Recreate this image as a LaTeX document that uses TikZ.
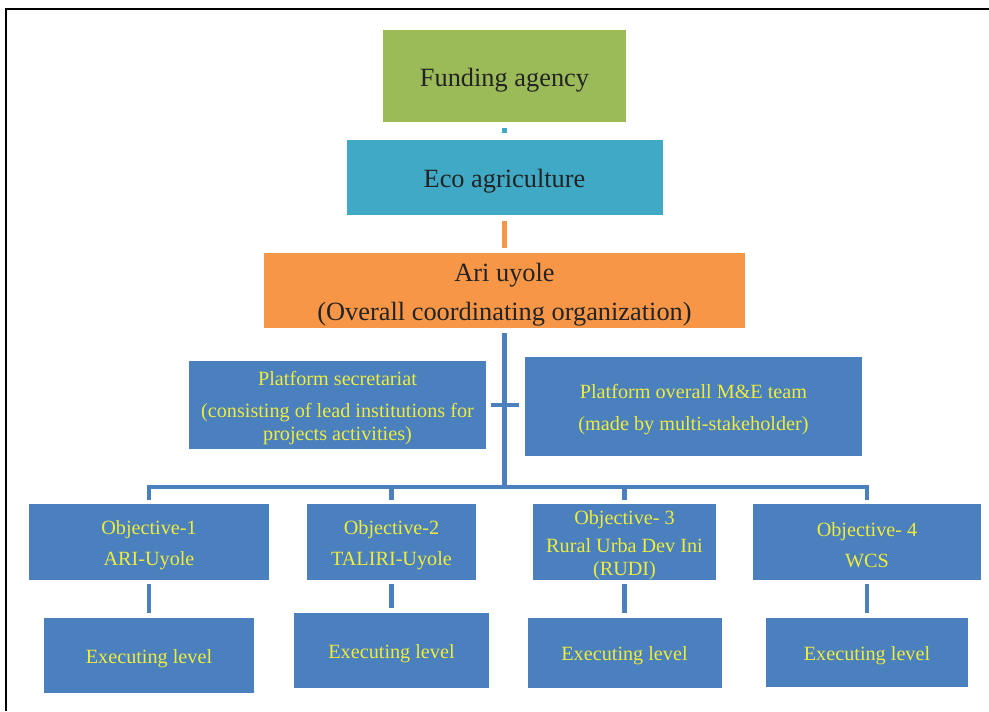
\documentclass[tikz,border=0pt]{standalone}
\usepackage{fontspec}
\setmainfont{Liberation Serif}
\usepackage{tikz}
\definecolor{fundgreen}{RGB}{155,187,89}
\definecolor{ecocyan}{RGB}{64,170,198}
\definecolor{ariorange}{RGB}{247,150,70}
\definecolor{orgblue}{RGB}{74,128,190}
\definecolor{labelyellow}{RGB}{240,236,60}
\definecolor{darktext}{RGB}{35,35,35}
\newcommand{\lineone}{\rule{0pt}{1em}}
\tikzset{basic/.style={inner sep=0pt,align=center}}
\tikzset{topbox/.style={basic,text=darktext,font=\fontsize{15}{18}\selectfont}}
\tikzset{unitbox/.style={basic,fill=orgblue,text=labelyellow,
                         font=\fontsize{11.5}{13}\selectfont}}
\def\px{0.02cm}

\begin{document}
\begin{tikzpicture}[x=0.02cm, y=-0.02cm]
    \tikzstyle{link}=[line width=2.8pt]
    \tikzstyle{bluelink}=[line width=2.3pt,draw=orgblue]
    \useasboundingbox (0,0) rectangle (989,711);

    % Frame round the chart
    \draw[line width=1.2pt] (6,711) -- (6,9) -- (989,9);

    % Draw the upper levels
    \node[topbox,fill=fundgreen,minimum width=243*\px,minimum height=92*\px]
        (fund) at (504.5,76) {\lineone Funding agency};
    \node[topbox,fill=ecocyan,minimum width=316*\px,minimum height=75*\px]
        (eco) at (504.5,177) {\lineone Eco agriculture};
    \node[topbox,fill=ariorange,minimum width=481*\px,minimum height=75*\px]
        (ari) at (504.5,290.5) {\lineone Ari uyole\\[4pt](Overall coordinating organization)};

    % Platform units beside the trunk
    \node[unitbox,minimum width=297*\px,minimum height=88*\px] (sec) at (337.5,405)
        {\lineone Platform secretariat\\[5pt](consisting of lead institutions for\\projects activities)};
    \node[unitbox,minimum width=337*\px,minimum height=99*\px] (me) at (693.5,406.5)
        {\lineone Platform overall M\&E team\\[5pt](made by multi-stakeholder)};

    % Draw the objective nodes
    \foreach \n / \x / \w / \txt in {1/149/240/{Objective-1\\[5pt]ARI-Uyole},
                                     2/391.5/169/{Objective-2\\[5pt]TALIRI-Uyole},
                                     3/624.5/183/{Objective- 3\\[3pt]Rural Urba Dev Ini\\(RUDI)},
                                     4/867/228/{Objective- 4\\[5pt]WCS}}
        \node[unitbox,minimum width=\w*\px,minimum height=76*\px] (O-\n) at (\x,542) {\lineone\txt};

    % Draw the executing level nodes
    \foreach \n / \x / \y / \w / \h in {1/149/655.5/210/75,2/391.5/650.5/195/75,
                                       3/624.5/653/194/70,4/867/652.5/202/69}
        \node[unitbox,minimum width=\w*\px,minimum height=\h*\px] (E-\n) at (\x,\y) {\lineone Executing level};

    \coordinate (bus) at (504.5,487);

    % Connect the upper levels
    \draw[link,ecocyan,shorten <=0.12cm,shorten >=0.12cm] (fund) -- (eco);
    \draw[link,ariorange,shorten <=0.12cm,shorten >=0.1cm] (eco) -- (ari);
    \draw[bluelink,shorten <=0.1cm] (ari) -- (bus);
    \draw[bluelink,shorten <=0.1cm,shorten >=0.12cm] (sec.east) -- (sec.east -| me.west);

    % Bus to the objectives
    \draw[bluelink,shorten <=0.08cm,shorten >=0.08cm] (O-1) |- (bus) -| (O-4);
    \foreach \n in {2,3}
        \draw[bluelink,shorten <=0.08cm] (O-\n) -- (O-\n |- bus);

    % Connect every objective with its executing level
    \foreach \n in {1,...,4}
        \draw[link,orgblue,shorten <=0.08cm,shorten >=0.1cm] (O-\n) -- (E-\n);
\end{tikzpicture}
\end{document}
